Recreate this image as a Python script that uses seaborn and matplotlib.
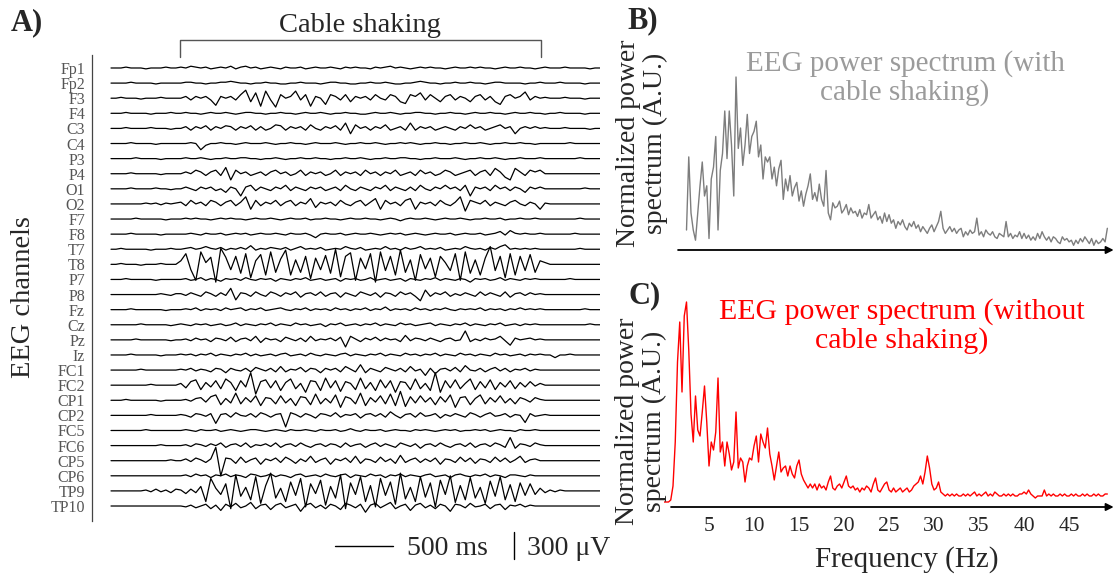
import numpy as np
import pandas as pd
import seaborn as sns
import matplotlib.pyplot as plt

# ---------------- Panel A: EEG traces ----------------
# amplitudes in units of 10 uV, one sample every 43 ms
CHANNELS = ["Fp1", "Fp2", "F3", "F4", "C3", "C4", "P3", "P4", "O1", "O2",
            "F7", "F8", "T7", "T8", "P7", "P8", "Fz", "Cz", "Pz", "Iz",
            "FC1", "FC2", "CP1", "CP2", "FC5", "FC6", "CP5", "CP6", "TP9", "TP10"]
SAMPLE_MS = 43

fp1 = [0,0,0,1,0,0,0,-1,0,0,0,1,0,0,
       1,0,2,1,0,1,-1,0,1,0, 2,-1,1,2,0,1,-1,0,1,0, -1,1,0,0,1,-1,0,1,0,0, 1,0,-1,1,0,1,0,0,-1,1,
       0,1,2,0,1,0,-1,0,1,0, 1,0,0,-1,0,1,0,0,1,0, 1,0,0,-1,0,1,0,0,1,0, 0,-1,0,1,
       0,0,0,1,0,0,0,0,-1,0,0]
fp2 = [0,0,0,0,1,0,0,0,0,-1,0,0,0,0,
       0,1,1,0,0,-1,0,0,1,1, 2,1,0,0,-1,0,0,1,0,0, -1,-1,0,0,1,0,0,0,-1,0, 1,1,0,0,-1,-1,0,0,1,0,
       0,1,0,-1,-1,0,0,1,2,1, 0,0,-1,0,0,1,0,0,1,0, 0,-1,0,1,1,0,0,0,0,-1, 0,0,1,0,
       0,0,1,0,0,0,0,-1,0,0,0]
f3 = [0,0,1,0,0,0,-1,0,0,0,1,0,0,0,
      0,2,-2,2,0,2,-2,-8,2,0, 2,-2,4,9,-4,6,-9,8,-2,-10, 4,0,2,8,-2,4,-9,2,0,-7, 4,2,-2,4,-4,2,0,2,-2,4,
      0,-2,4,2,-4,-6,4,2,6,-2, 4,0,-4,2,4,-2,2,0,-4,2, 4,-2,2,-4,-7,2,4,0,2,7, -2,2,0,1,
      0,0,0,1,0,0,0,-1,0,0,0]
f4 = [0,0,0,1,0,0,0,0,-1,0,0,0,1,0,
      0,1,0,0,-1,0,1,0,0,1, 0,-1,0,1,1,0,0,-1,0,0, 1,0,0,-1,0,1,0,0,1,0, -1,0,0,1,0,0,-1,-1,0,1,
      0,0,1,0,-1,0,0,1,1,0, 0,-1,0,0,1,0,0,-1,0,1, 0,0,1,0,0,-1,0,1,0,0, 1,0,0,-1,
      0,0,1,0,0,0,0,-1,0,0,0]
c3 = [0,0,0,1,0,0,0,0,1,0,0,0,-1,0,
      0,2,-2,2,0,3,-2,2,0,3, 2,-2,2,0,3,-2,2,-2,0,4, 3,-2,2,0,2,-2,4,0,-2,2, 0,3,-2,6,-6,4,0,2,-2,2,
      0,4,-2,0,2,-2,6,-2,2,0, 2,-2,0,2,0,-2,2,0,4,0, 2,-2,0,2,4,0,2,-6,0,2, 0,2,0,1,
      0,0,0,1,0,0,0,0,-1,0,0]
c4 = [0,0,0,0,1,0,0,0,0,-1,0,0,0,0,
      0,0,1,0,-7,-2,0,0,1,0, 0,-1,0,1,0,0,0,1,0,-1, 0,0,1,0,0,-1,0,1,0,0, 0,1,0,-1,0,0,1,0,0,1,
      0,-1,0,0,1,0,1,0,-1,0, 0,1,0,0,-1,0,0,1,0,0, 1,0,-1,0,0,1,0,0,1,0, 0,-1,0,0,
      0,0,0,0,1,0,0,0,0,0,0]
p3 = [0,0,0,0,0,1,0,0,0,0,-1,0,0,0,
      0,1,0,0,1,0,-1,0,0,1, 0,0,1,1,0,0,-1,0,0,1, 0,-1,0,0,1,0,0,1,0,0, -1,0,0,1,0,0,1,0,-1,0,
      0,1,0,0,1,1,0,0,-1,0, 0,1,0,0,0,1,0,-1,0,0, 1,0,0,1,0,-1,0,0,1,0, 0,0,1,0,
      0,0,0,0,0,0,1,0,0,0,0]
p4 = [0,0,0,0,1,0,0,0,0,0,-1,0,0,0,
      0,2,0,4,2,-2,2,4,-2,7, -7,4,0,2,-2,0,2,-2,2,4, 0,2,-2,0,4,-2,2,0,2,-2, 0,4,-2,2,0,2,-2,4,0,2,
      -2,2,0,4,-2,0,2,-2,4,0, 2,-2,0,4,2,-2,0,2,4,-2, 2,4,-2,6,2,-4,-7,6,2,-2, 4,2,4,0,
      0,0,0,0,0,0,0,0,0,0,0]
o1 = [0,0,0,0,1,0,0,0,0,1,0,0,-1,0,
      0,2,0,-2,2,0,2,-2,0,-4, 2,0,-8,2,4,-2,2,0,-2,2, 0,4,-2,2,0,-2,2,0,2,-2, 0,2,-2,4,0,-2,2,0,-2,2,
      0,4,-2,2,0,-2,2,-2,4,0, -2,2,0,4,0,2,-2,4,-8,2, 0,2,-2,4,0,2,-2,2,0,-4, 2,0,2,0,
      0,0,0,0,0,0,0,1,0,0,0]
o2 = [0,0,0,0,0,0,0,1,0,1,-1,1,0,1,
      2,-2,4,0,2,-2,4,2,-2,2, 4,-2,2,8,-6,4,-2,2,0,4, -2,2,4,-2,2,0,6,-4,2,0, 2,-2,4,0,-2,2,4,-2,2,6,
      -6,4,0,2,-2,4,6,-6,2,0, 2,-2,4,0,-2,2,8,-8,4,2, 0,4,-2,2,0,-2,2,4,0,-2, 2,0,-6,1,
      0,0,0,0,0,0,0,0,0,0,0]
f7 = [0,0,0,0,0,1,0,0,0,0,0,-1,0,0,
      0,1,0,1,0,0,-1,0,1,0, 1,0,0,-1,0,1,0,0,1,0, -1,0,1,0,0,1,-1,0,0,1, 0,0,-1,0,1,0,0,1,0,0,
      -1,0,1,0,-2,0,1,0,0,1, 0,-1,0,1,0,0,1,0,-1,0, 0,1,0,0,1,-1,0,0,1,0, 0,1,0,0,
      0,0,0,0,0,0,1,0,0,0,0]
f8 = [0,0,0,0,1,0,0,0,0,0,-1,0,0,0,
      0,0,1,0,-1,1,0,0,1,-1, 0,1,0,1,-1,0,1,0,0,1, 0,-1,1,0,0,1,-1,-4,0,1, 0,0,1,-1,0,1,0,0,1,0,
      -1,0,1,0,1,-1,0,1,0,-1, 0,1,0,0,1,-1,0,1,0,0, 1,-1,0,1,3,-1,4,1,0,1, 0,0,1,0,
      0,0,0,0,0,1,0,0,0,0,0]
t7 = [0,0,1,0,0,0,0,0,-1,0,0,0,1,0,
      0,1,2,0,1,3,1,0,2,-1, 1,0,2,0,4,-1,1,0,2,1, 0,2,-1,1,3,0,1,0,2,-1, 0,1,0,3,1,0,2,-1,0,1,
      0,3,0,1,-1,2,0,1,3,0, 1,0,2,-1,0,1,0,3,1,0, 1,-1,2,0,3,5,0,1,0,1, 0,1,0,0,
      0,0,0,0,0,0,1,0,0,0,0]
t8 = [0,0,1,0,0,0,-1,0,0,0,1,0,0,0,
      4,12,-6,-18,14,2,8,-20,18,8, -6,9,-10,12,-15,4,11,-12,14,-9, 6,16,-12,5,-9,9,-16,7,-6,10,
      -10,17,-14,9,13,-18,7,-5,12,-20, 14,-7,9,-12,16,-9,5,-18,11,-5, 7,-14,9,2,-7,12,-18,14,-10,5,
      -12,7,20,-7,9,-15,12,-12,9,-7, 11,-9,4,2,
      0,0,0,0,0,0,0,0,0,0,0]
p7 = [0,0,0,1,0,0,0,0,0,-1,0,0,0,0,
      0,1,-1,0,2,-1,1,0,-2,1, 0,1,-1,2,0,-1,1,0,1,-2, 1,0,-1,1,0,2,-1,0,1,-1, 0,1,-2,1,0,1,-1,0,2,-1,
      0,1,-1,0,1,-2,1,0,-1,1, 0,2,-1,1,0,-1,1,0,-3,1, 0,1,-1,0,2,-1,1,0,-1,1, 0,1,0,0,
      0,0,0,0,1,0,0,0,0,0,0]
p8 = [0,0,0,0,0,0,0,0,0,0,1,0,-1,1,
      1,-1,2,0,-2,3,1,-2,2,-1, 7,-6,2,1,-2,3,0,-2,3,1, -2,2,0,3,-3,1,2,-1,3,-2, 1,2,-3,2,0,-2,3,1,-1,2,
      -3,2,1,-2,3,0,2,-2,-7,5, -2,2,0,3,-2,1,-1,2,0,-2, 3,-1,2,0,-2,3,-3,1,2,-1, 2,0,1,0,
      0,0,0,0,0,0,0,0,0,0,0]
fz = [0,0,0,0,1,0,0,0,0,0,0,-1,0,0,
      0,1,0,2,-1,1,0,1,-1,2, 0,1,2,-1,1,0,2,-1,0,1, 2,0,-1,1,0,2,-1,1,0,1, -1,2,0,1,-1,1,0,2,-1,1,
      0,3,-1,1,0,1,-1,2,0,1, -1,1,0,2,0,-1,1,0,1,0, 2,-1,1,0,1,-1,1,0,2,0, 1,0,1,0,
      0,0,0,0,0,0,0,1,0,0,0]
cz = [0,0,0,0,0,0,1,0,0,0,0,0,-1,0,
      1,0,-1,1,0,1,-1,0,1,-1, 0,2,-1,1,0,-1,1,0,2,-1, 1,0,-1,2,0,1,-1,0,1,-2, 1,0,2,-1,0,1,-1,1,0,2,
      -1,1,0,-1,2,0,1,-1,0,1, 2,-1,1,0,-1,1,0,2,-1,1, 0,-1,1,0,2,-1,0,1,-1,1, 0,1,0,0,
      0,0,0,0,0,0,0,0,1,0,0]
pz = [0,0,0,0,0,1,0,0,0,0,0,0,-1,0,
      0,1,-1,2,0,1,-2,2,1,-1, 3,-2,1,2,-1,4,-3,2,0,1, -2,3,1,-1,2,-2,4,-1,1,0, 2,-1,3,-8,4,1,-2,2,0,3,
      -1,2,0,1,-2,5,-1,2,1,-1, 2,0,-2,1,2,-1,0,10,-2,1, -1,2,0,1,4,-1,-6,2,0,1, 2,0,1,0,
      0,0,0,0,0,0,0,0,0,0,0]
iz = [0,0,0,0,1,0,0,0,0,0,-1,0,0,0,
      1,0,1,-1,1,0,2,-1,1,0, -1,1,0,2,-1,1,-1,0,1,-1, 1,2,-1,0,1,-1,2,0,-1,1, 0,-1,1,2,-1,1,0,-1,1,0,
      2,-1,1,0,-1,2,0,1,-1,1, 0,2,-1,1,0,-1,2,0,1,-1, 1,0,-1,2,0,1,-1,0,1,-1, 1,0,1,0,
      0,-3,0,0,1,0,0,0,0,0,0]
fc1 = [0,0,0,0,0,0,1,0,0,0,0,0,0,0,
       1,0,2,-1,1,0,-2,2,1,-3, 2,0,-1,2,-2,3,1,-1,2,-2, 4,-2,1,0,3,-2,2,1,-3,2, 0,2,-2,4,1,-2,6,-3,2,0,
       -2,3,1,-1,2,-2,4,-1,1,-6, 2,-4,1,2,-1,3,-2,5,0,-1, 2,-2,1,3,-1,2,-2,1,0,2, -1,1,0,0,
       0,0,0,0,0,0,0,0,0,0,0]
fc2 = [0,0,0,0,0,0,0,0,1,0,0,0,0,0,
       2,-3,4,6,-5,3,-2,5,-4,7, 3,-6,5,-2,14,-10,4,6,-3,5, -6,3,7,-4,2,-8,5,4,-6,8, -3,5,-7,4,2,-5,8,-4,3,-6,
       6,-3,5,-8,4,3,-5,7,-4,2, -6,14,-8,5,-3,6,-4,2,7,-5, 4,-3,6,-5,3,-2,5,-4,3,-2, 4,-1,2,0,
       0,0,0,0,0,0,0,0,0,0,0]
cp1 = [0,0,0,1,0,0,0,0,0,0,-1,0,0,0,
       0,1,-1,2,3,-2,4,6,-5,2, -3,8,-4,3,-2,5,-6,3,2,-4, 5,-3,2,-6,4,3,-5,7,-4,2, -3,6,-8,4,2,-4,8,-6,3,-2,
       5,-4,7,-6,10,-7,4,-3,5,-2, 3,-5,4,-2,6,-8,3,4,-5,2, 6,-4,3,-2,5,-3,2,-4,3,1, -2,3,1,0,
       0,0,0,0,0,0,0,0,0,0,0]
cp2 = [0,0,0,0,0,0,0,0,1,0,0,0,0,0,
       1,0,-2,2,1,-1,2,-9,1,2, -2,3,0,-1,2,-2,3,1,-2,1, 2,-13,3,1,-2,2,0,-3,2,1, -1,3,-2,1,0,2,-3,1,2,-1,
       2,-2,4,0,-3,1,2,-2,3,-1, 0,2,-3,1,-1,2,0,-2,3,1, -2,1,3,-1,0,2,-2,1,0,-8, 2,-1,0,1,
       0,0,0,0,0,0,0,0,0,0,0]
fc5 = [0,0,0,0,0,0,0,1,0,0,0,0,0,0,
       0,1,0,-1,1,0,0,1,-1,0, 1,0,-1,0,1,1,0,-1,0,1, 0,-1,1,0,0,1,0,-1,1,0, 0,1,-1,0,2,0,-1,1,0,0,
       1,-1,0,1,0,0,-1,1,0,1, 0,-1,0,1,0,1,-1,0,0,1, 0,1,-1,0,1,0,0,-1,1,0, 0,1,0,0,
       0,0,0,0,0,0,0,0,0,0,0]
fc6 = [0,0,0,0,0,0,0,0,0,0,1,0,0,0,
       0,1,-1,2,1,-1,2,0,3,-2, 1,2,-1,3,-2,1,0,2,-1,3, -2,1,2,-1,3,0,-2,1,2,-1, 2,1,-2,3,-1,1,2,-2,1,3,
       -1,2,0,-2,3,1,-1,2,-3,1, 2,-1,3,0,-2,1,2,-1,3,-2, 1,2,-1,3,1,-2,9,-3,2,1, -1,3,1,0,
       0,0,0,0,0,0,0,0,0,0,0]
cp5 = [0,0,0,0,0,0,0,0,0,0,0,0,1,0,
       0,2,-1,3,1,-2,2,15,-17,3, 2,-3,4,-2,1,3,-4,2,0,3, -2,4,1,-3,2,-1,5,-2,1,3, -4,2,0,3,-2,5,-3,2,1,-2,
       4,-1,2,-3,6,-2,1,3,-2,2, -1,3,-4,2,1,-2,4,-1,3,-3, 2,1,-2,4,-1,3,-2,1,5,-2, 1,2,0,0,
       0,0,0,0,0,0,0,0,0,0,0]
cp6 = [0,0,0,0,0,0,0,0,0,0,0,0,0,0,
       0,1,-1,2,0,1,-2,1,0,2, -1,1,0,-2,2,1,-1,0,2,-1, 1,0,-2,1,2,-1,0,1,-1,2, 0,-1,1,2,-2,1,0,-1,2,0,
       1,-2,1,0,2,-1,1,0,-1,1, 2,-1,0,1,-2,1,2,0,-1,1, 0,2,-1,1,0,-2,1,1,0,-1, 1,0,0,0,
       0,0,0,0,0,0,0,0,0,0,0]
tp9 = [0,0,0,0,0,0,0,1,-1,2,-1,1,-2,2,
       1,-3,2,-2,5,-12,14,3,-4,8, -20,18,-6,4,-10,16,-14,6,20,-8, 3,-12,10,-5,14,-18,8,-3,12,-16,
       5,-8,18,-20,9,-4,16,-12,6,-18, 14,-5,10,-15,20,-9,4,-12,16,-7, 9,-18,12,-4,17,-13,6,-10,15,-8,
       4,-14,11,-6,16,-10,7,-12,9,-5, 8,-4,3,-2,
       1,-1,1,0,0,0,0,0,0,0,0]
tp10 = [0,0,0,0,0,0,0,0,0,0,0,0,0,0,
        0,-1,1,-2,0,2,-3,1,-5,2, -1,3,-2,0,4,-3,1,2,-4,1, 3,-2,0,2,-6,1,3,-2,1,-3, 2,0,-4,3,1,-2,2,-7,1,3,
        -2,1,4,-3,0,2,-5,1,3,-2, 1,-3,2,0,-6,2,1,-2,3,-1, 0,2,-3,1,2,-4,1,0,2,-1, 1,0,0,0,
        0,0,0,0,0,0,0,0,0,0,0]

EEG = [fp1, fp2, f3, f4, c3, c4, p3, p4, o1, o2, f7, f8, t7, t8, p7, p8,
       fz, cz, pz, iz, fc1, fc2, cp1, cp2, fc5, fc6, cp5, cp6, tp9, tp10]

# ---------------- Panels B/C: power spectra (0.25 Hz bins) ----------------
FREQ_STEP = 0.25
FREQ_B_START = 2.5
POWER_B = [0.10, 0.53, 0.20, 0.10, 0.04, 0.20, 0.36, 0.50, 0.30, 0.36,
           0.05, 0.40, 0.47, 0.65, 0.10, 0.45, 0.55, 0.80, 0.52, 0.80,
           0.60, 0.30, 1.00, 0.58, 0.70, 0.48, 0.60, 0.78, 0.55, 0.65,
           0.68, 0.74, 0.53, 0.60, 0.40, 0.53, 0.50, 0.53, 0.40, 0.47,
           0.36, 0.46, 0.51, 0.28, 0.40, 0.33, 0.42, 0.30, 0.35, 0.38,
           0.27, 0.33, 0.24, 0.31, 0.36, 0.43, 0.28, 0.32, 0.27, 0.37,
           0.28, 0.24, 0.45, 0.20, 0.16, 0.26, 0.23, 0.24, 0.27, 0.20,
           0.22, 0.25, 0.19, 0.23, 0.20, 0.21, 0.18, 0.22, 0.17, 0.20,
           0.19, 0.25, 0.17, 0.19, 0.21, 0.16, 0.18, 0.14, 0.20, 0.15,
           0.19, 0.14, 0.16, 0.11, 0.15, 0.13, 0.16, 0.12, 0.10, 0.14,
           0.12, 0.15, 0.11, 0.13, 0.09, 0.12, 0.10, 0.08, 0.11, 0.13,
           0.09, 0.12, 0.15, 0.21, 0.11, 0.08, 0.10, 0.12, 0.09, 0.11,
           0.08, 0.10, 0.11, 0.06, 0.09, 0.07, 0.10, 0.08, 0.09, 0.17,
           0.07, 0.09, 0.06, 0.10, 0.08, 0.07, 0.09, 0.06, 0.05, 0.08,
           0.07, 0.06, 0.15, 0.06, 0.08, 0.05, 0.07, 0.06, 0.09, 0.05,
           0.08, 0.05, 0.07, 0.04, 0.06, 0.04, 0.08, 0.05, 0.09, 0.06,
           0.04, 0.06, 0.03, 0.06, 0.05, 0.03, 0.02, 0.06, 0.04, 0.05,
           0.03, 0.04, 0.01, 0.04, 0.02, 0.05, 0.03, 0.06, 0.04, 0.02,
           0.05, 0.01, 0.04, 0.02, 0.03, 0.05, 0.03, 0.11]
FREQ_C_START = 0.0
POWER_C = [0.00, 0.00, 0.00, 0.01, 0.08, 0.30, 0.70, 0.90, 0.55, 0.93,
           1.00, 0.76, 0.44, 0.30, 0.53, 0.36, 0.33, 0.45, 0.58, 0.40,
           0.18, 0.30, 0.26, 0.35, 0.62, 0.25, 0.30, 0.18, 0.30, 0.24,
           0.16, 0.20, 0.45, 0.17, 0.22, 0.20, 0.10, 0.18, 0.22, 0.21,
           0.28, 0.33, 0.20, 0.34, 0.30, 0.27, 0.37, 0.24, 0.18, 0.11,
           0.18, 0.25, 0.15, 0.17, 0.18, 0.13, 0.18, 0.14, 0.12, 0.18,
           0.21, 0.14, 0.11, 0.09, 0.07, 0.09, 0.07, 0.09, 0.06, 0.09,
           0.07, 0.08, 0.06, 0.10, 0.13, 0.07, 0.06, 0.08, 0.09, 0.07,
           0.10, 0.13, 0.08, 0.07, 0.08, 0.06, 0.07, 0.05, 0.07, 0.06,
           0.08, 0.07, 0.05, 0.09, 0.12, 0.06, 0.05, 0.07, 0.09, 0.10,
           0.06, 0.05, 0.07, 0.05, 0.06, 0.07, 0.05, 0.06, 0.07, 0.05,
           0.06, 0.08, 0.09, 0.10, 0.13, 0.09, 0.15, 0.23, 0.17, 0.09,
           0.06, 0.07, 0.10, 0.05, 0.04, 0.03, 0.04, 0.03, 0.04, 0.03,
           0.04, 0.03, 0.03, 0.04, 0.03, 0.04, 0.03, 0.04, 0.05, 0.03,
           0.04, 0.03, 0.04, 0.05, 0.03, 0.04, 0.03, 0.05, 0.04, 0.03,
           0.03, 0.04, 0.03, 0.04, 0.03, 0.04, 0.03, 0.03, 0.04, 0.04,
           0.05, 0.04, 0.06, 0.04, 0.03, 0.02, 0.03, 0.03, 0.03, 0.06,
           0.03, 0.04, 0.03, 0.04, 0.03, 0.03, 0.04, 0.03, 0.04, 0.03,
           0.03, 0.04, 0.03, 0.04, 0.03, 0.03, 0.04, 0.03, 0.04, 0.03,
           0.03, 0.04, 0.03, 0.04, 0.03, 0.03, 0.04, 0.04]
FREQ_TICKS = [5, 10, 15, 20, 25, 30, 35, 40, 45]

# ---------------- figure ----------------
sns.set_style("white")
plt.rcParams["font.family"] = ["Liberation Serif", "DejaVu Serif"]

W, H = 1115, 576
fig = plt.figure(figsize=(W / 100, H / 100), dpi=100)


def px_box(left, top, right, bottom):
    return [left / W, 1 - bottom / H, (right - left) / W, (bottom - top) / H]


def fig_text(x, y, s, **kw):
    fig.text(x / W, 1 - y / H, s, ha="center", va="center", **kw)


CH_SPACING = 170  # uV between traces
UV_PER_PX = 11.25
MS_PER_PX = 8.62

rows = []
for k, (name, vals) in enumerate(zip(CHANNELS, EEG)):
    for i, v in enumerate(vals):
        rows.append((name, i * SAMPLE_MS, v * 10 - k * CH_SPACING))
eeg_df = pd.DataFrame(rows, columns=["channel", "time_ms", "trace_uv"])

axA = fig.add_axes(px_box(92, 55, 600, 521))
sns.lineplot(data=eeg_df, x="time_ms", y="trace_uv", units="channel",
             estimator=None, color="black", linewidth=0.9, ax=axA, legend=False)
axA.set_xlim(-19 * MS_PER_PX, 98 * SAMPLE_MS)
axA.set_ylim(-29 * CH_SPACING - 15 * UV_PER_PX, 13 * UV_PER_PX)
axA.set_xlabel("")
axA.set_ylabel("")
axA.set_xticks([])
axA.set_yticks([-k * CH_SPACING for k in range(len(CHANNELS))], labels=CHANNELS)
axA.tick_params(axis="y", direction="in", length=5, width=0.8, color="#555555",
                labelcolor="#555555", labelsize=11.5, pad=5)
for side in ["top", "right", "bottom"]:
    axA.spines[side].set_visible(False)
axA.spines["left"].set_color("#444444")
axA.spines["left"].set_linewidth(0.9)


def a_xy(xp, yp):
    # pixel position -> panel A data coordinates
    return (xp - 111) * MS_PER_PX, 13 * UV_PER_PX - (yp - 55) * UV_PER_PX


# cable shaking bracket
bx0, by0 = a_xy(180, 57)
bx1, by1 = a_xy(541, 40)
axA.plot([bx0, bx0, bx1, bx1], [by0, by1, by1, by0], color="#555555", lw=1.0, clip_on=False)
tx, ty = a_xy(360, 32)
axA.text(tx, ty, "Cable shaking", ha="center", va="baseline", fontsize=20.5)

# scale bars
sx, sy = a_xy(335, 546.5)
axA.plot([sx, sx + 500], [sy, sy], color="black", lw=1.0, clip_on=False)
vx, vy = a_xy(514, 559)
axA.plot([vx, vx], [vy, vy + 300], color="black", lw=1.0, clip_on=False)
lx, ly = a_xy(407, 555)
axA.text(lx, ly, "500 ms", ha="left", va="baseline", fontsize=20)
lx, ly = a_xy(527, 555)
axA.text(lx, ly, "300 μV", ha="left", va="baseline", fontsize=20)

fig_text(27, 23, "A)", fontsize=22, weight="bold")
fig_text(24, 297, "EEG channels", fontsize=20.5, rotation=90)

# ---- panel B
freq_b = FREQ_B_START + FREQ_STEP * np.arange(len(POWER_B))
axB = fig.add_axes(px_box(664, 55, 1115, 252))
sns.lineplot(x=freq_b, y=POWER_B, color="#7d7d7d", linewidth=1.0, ax=axB)
axB.set_xlim(0, 50.1)
axB.set_ylim(-5 / 170, 192 / 170)
axB.axis("off")
axB.annotate("", xy=(49.95, -3 / 170), xytext=(1.56, -3 / 170),
             arrowprops=dict(arrowstyle="-|>", color="black", lw=1.3,
                             mutation_scale=11, shrinkA=0, shrinkB=0),
             annotation_clip=False)

fig_text(643, 21, "B)", fontsize=22, weight="bold")
fig_text(905, 78, "EEG power spectrum (with\ncable shaking)", fontsize=21,
         color="#9b9b9b", linespacing=1.1)
fig_text(642, 143, "Normalized power\nspectrum (A.U.)", fontsize=20,
         rotation=90, linespacing=1.1)

# ---- panel C
freq_c = FREQ_C_START + FREQ_STEP * np.arange(len(POWER_C))
axC = fig.add_axes(px_box(664, 285, 1115, 510))
sns.lineplot(x=freq_c, y=POWER_C, color="#ff0000", linewidth=1.0, ax=axC)
axC.set_xlim(0, 50.1)
axC.set_ylim(-8 / 200, 217 / 200)
sns.despine(ax=axC, left=True, bottom=True)
axC.set_yticks([])
axC.set_xticks(FREQ_TICKS)
axC.tick_params(axis="x", length=0, labelsize=15.5, pad=5)
axC.set_xlabel("")
axC.annotate("", xy=(49.95, -5 / 200), xytext=(0.78, -5 / 200),
             arrowprops=dict(arrowstyle="-|>", color="black", lw=1.3,
                             mutation_scale=11, shrinkA=0, shrinkB=0),
             annotation_clip=False)

fig_text(645, 296, "C)", fontsize=22, weight="bold")
fig_text(902, 326, "EEG power spectrum (without\ncable shaking)", fontsize=21.5,
         color="#ff0000", linespacing=1.1)
fig_text(641, 421, "Normalized power\nspectrum (A.U.)", fontsize=20,
         rotation=90, linespacing=1.1)
fig_text(907, 560, "Frequency (Hz)", fontsize=21)

fig.savefig("out.png", dpi=100)
